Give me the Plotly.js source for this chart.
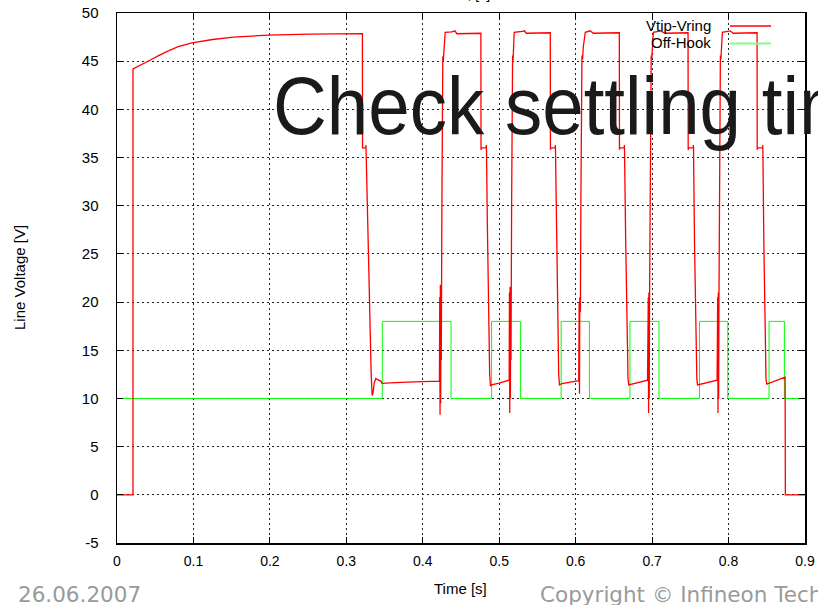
<!DOCTYPE html>
<html>
<head>
<meta charset="utf-8">
<script src="https://cdn.plot.ly/plotly-3.0.1.min.js"></script>
<style>
html,body{margin:0;padding:0;background:#fff;}
#chart{width:818px;height:605px;}
</style>
</head>
<body>
<div id="chart"></div>
<script>
// Vtip-Vring (red) — time [s] and voltage [V]
const vtipTime = [
  0, 0.0209, 0.0209, 0.030, 0.043, 0.055, 0.065, 0.080, 0.098, 0.125, 0.152, 0.198, 0.250, 0.3210,
  0.3212, 0.3255, 0.3256, 0.3258, 0.3275, 0.3300, 0.3325, 0.3338, 0.3350, 0.3365, 0.3385, 0.3410, 0.3450, 0.3470, 0.3510, 0.3790, 0.4218,
  0.4222, 0.4226, 0.4230, 0.4234, 0.4238, 0.4242,
  0.4250, 0.4255, 0.4262, 0.4268, 0.4275, 0.4282, 0.4293, 0.4380, 0.4420, 0.4446, 0.4760,
  0.4762, 0.4765, 0.4830, 0.4831, 0.4833, 0.4845, 0.4860, 0.4875, 0.4885, 0.4900, 0.5000, 0.5130,
  0.5134, 0.5138, 0.5142, 0.5146, 0.5150, 0.5154,
  0.5162, 0.5168, 0.5175, 0.5181, 0.5188, 0.5196, 0.5300, 0.5330, 0.5353, 0.5668,
  0.5670, 0.5673, 0.5733, 0.5734, 0.5736, 0.5750, 0.5765, 0.5778, 0.5788, 0.5820, 0.6040,
  0.6046, 0.6050, 0.6054, 0.6058, 0.6062,
  0.6068, 0.6075, 0.6082, 0.6090, 0.6100, 0.6126, 0.6190, 0.6230, 0.6571,
  0.6573, 0.6576, 0.6636, 0.6637, 0.6639, 0.6655, 0.6672, 0.6685, 0.6695, 0.6940,
  0.6950, 0.6954, 0.6958, 0.6962, 0.6966,
  0.6972, 0.6980, 0.6988, 0.6995, 0.7005, 0.7016, 0.7110, 0.7173, 0.7470,
  0.7472, 0.7475, 0.7539, 0.7540, 0.7542, 0.7555, 0.7572, 0.7585, 0.7595, 0.7850,
  0.7858, 0.7862, 0.7866, 0.7870, 0.7874,
  0.7880, 0.7886, 0.7893, 0.7900, 0.7908, 0.7919, 0.8020, 0.8063, 0.8373,
  0.8375, 0.8378, 0.8446, 0.8447, 0.8449, 0.8462, 0.8478, 0.8490, 0.8500, 0.8740,
  0.8743, 0.9000
];
const vtipVolt = [
  0, 0, 44.2, 44.55, 45.1, 45.6, 46.0, 46.5, 46.9, 47.25, 47.5, 47.7, 47.8, 47.85,
  36.0, 36.0, 36.3, 35.8, 30.0, 20.0, 12.5, 10.3, 10.6, 11.6, 12.05, 11.95, 11.8, 11.55, 11.6, 11.7, 11.8,
  20.5, 8.3, 21.8, 9.5, 20.0, 14.0,
  30.0, 44.5, 45.5, 45.0, 46.3, 46.0, 48.0, 48.05, 48.15, 47.85, 47.9,
  35.8, 36.0, 36.0, 36.3, 35.8, 28.0, 18.0, 12.5, 11.3, 11.4, 11.6, 11.9,
  21.0, 8.5, 21.6, 10.0, 19.5, 14.0,
  30.0, 44.5, 45.6, 45.1, 46.4, 48.0, 48.1, 48.15, 47.9, 47.95,
  35.8, 36.0, 36.0, 36.3, 35.8, 28.0, 18.0, 12.5, 11.4, 11.55, 11.85,
  20.0, 10.5, 20.5, 11.5, 19.0,
  30.0, 44.5, 45.6, 45.2, 46.5, 48.0, 48.15, 47.9, 47.95,
  35.8, 36.0, 36.0, 36.3, 35.8, 26.0, 16.0, 12.0, 11.4, 11.9,
  20.5, 8.5, 21.0, 10.0, 19.5,
  30.0, 44.5, 45.6, 45.2, 46.4, 48.0, 48.15, 47.9, 47.95,
  35.8, 36.0, 36.0, 36.3, 35.8, 26.0, 16.0, 12.0, 11.4, 11.9,
  20.5, 8.5, 21.0, 10.0, 19.5,
  30.0, 44.5, 45.6, 45.2, 46.4, 48.0, 48.15, 47.9, 47.95,
  35.8, 36.0, 36.0, 36.3, 35.8, 26.0, 16.0, 12.0, 11.5, 12.2,
  0, 0
];
// Off-Hook (green) — step edges, held until next time ('hv')
const hookTime = [0, 0.347, 0.437, 0.490, 0.528, 0.581, 0.618, 0.671, 0.709, 0.762, 0.799, 0.853, 0.873, 0.9];
const hookVolt = [10, 18, 10, 18, 10, 18, 10, 18, 10, 18, 10, 18, 10, 10];

const xTicks = [0, 0.1, 0.2, 0.3, 0.4, 0.5, 0.6, 0.7, 0.8, 0.9];
const xTickText = ['0', '0.1', '0.2', '0.3', '0.4', '0.5', '0.6', '0.7', '0.8', '0.9'];
const yTicks = [-5, 0, 5, 10, 15, 20, 25, 30, 35, 40, 45, 50];
const yTickText = ['-5', '0', '5', '10', '15', '20', '25', '30', '35', '40', '45', '50'];
const seriesNames = ['Vtip-Vring', 'Off-Hook'];

const W = 818, H = 605, L = 117, R = 13, T = 13, B = 62;
const pw = W - L - R, ph = H - T - B;
const px = v => (v - L) / pw;
const py = v => (H - B - v) / ph;

const font = 'Liberation Sans, Arial, sans-serif';

const traces = [
  {x: hookTime, y: hookVolt, type: 'scatter', mode: 'lines', name: seriesNames[1],
   line: {color: '#00ff00', width: 1, shape: 'hv'}, showlegend: false, hoverinfo: 'skip'},
  {x: vtipTime, y: vtipVolt, type: 'scatter', mode: 'lines', name: seriesNames[0],
   line: {color: '#ff0000', width: 1.3}, showlegend: false, hoverinfo: 'skip'}
];

const axisCommon = {
  showline: true, linecolor: '#000', linewidth: 1.5, mirror: 'ticks',
  ticks: 'inside', ticklen: 6, tickcolor: '#000', tickwidth: 1,
  showgrid: true, gridcolor: '#222', gridwidth: 1, griddash: '2px,3px',
  zeroline: false, fixedrange: true
};

const layout = {
  width: W, height: H,
  margin: {l: L, r: R, t: T, b: B, pad: 0},
  paper_bgcolor: '#fff', plot_bgcolor: '#fff',
  showlegend: false,
  xaxis: Object.assign({}, axisCommon, {
    range: [0, 0.9], tickvals: xTicks, ticktext: xTickText,
    tickfont: {family: font, size: 14, color: '#000'}, ticklabelstandoff: 5
  }),
  yaxis: Object.assign({}, axisCommon, {
    range: [-5, 50], tickvals: yTicks, ticktext: yTickText,
    tickfont: {family: font, size: 15, color: '#000'}, ticklabelstandoff: 14
  }),
  annotations: [
    {text: 'Check settling time', xref: 'paper', yref: 'paper', x: px(271), y: py(106),
     xanchor: 'left', yanchor: 'middle', showarrow: false,
     font: {family: font, size: 81, color: '#1a1a1a'}},
    {text: seriesNames[0], xref: 'paper', yref: 'paper', x: px(713), y: py(26),
     xanchor: 'right', yanchor: 'middle', showarrow: false,
     font: {family: font, size: 15, color: '#000'}},
    {text: seriesNames[1], xref: 'paper', yref: 'paper', x: px(713), y: py(43),
     xanchor: 'right', yanchor: 'middle', showarrow: false,
     font: {family: font, size: 15, color: '#000'}},
    {text: 'Line Voltage [V]', xref: 'paper', yref: 'paper', x: px(19), y: py(278),
     xanchor: 'center', yanchor: 'middle', textangle: -90, showarrow: false,
     font: {family: font, size: 15, color: '#000'}},
    {text: 'Time [s]', xref: 'paper', yref: 'paper', x: px(460), y: py(588),
     xanchor: 'center', yanchor: 'middle', showarrow: false,
     font: {family: font, size: 15, color: '#000'}},
    {text: 'Time, [s]', xref: 'paper', yref: 'paper', x: px(492), y: py(4),
     xanchor: 'right', yanchor: 'bottom', showarrow: false,
     font: {family: font, size: 14, color: '#000'}},
    {text: '26.06.2007', xref: 'paper', yref: 'paper', x: px(16), y: py(594),
     xanchor: 'left', yanchor: 'middle', showarrow: false,
     font: {family: 'DejaVu Sans, sans-serif', size: 21.5, color: '#9a9a9a'}},
    {text: 'Copyright © Infineon Technologies 2007. All rights reserved.', xref: 'paper', yref: 'paper', x: px(538), y: py(594),
     xanchor: 'left', yanchor: 'middle', showarrow: false,
     font: {family: 'DejaVu Sans, sans-serif', size: 21.5, color: '#9a9a9a'}}
  ],
  shapes: [
    {type: 'line', xref: 'paper', yref: 'paper', x0: px(730), x1: px(771), y0: py(26), y1: py(26),
     line: {color: '#ff0000', width: 1.5}},
    {type: 'line', xref: 'paper', yref: 'paper', x0: px(730), x1: px(771), y0: py(43.5), y1: py(43.5),
     line: {color: '#80ff80', width: 2}}
  ]
};

Plotly.newPlot('chart', traces, layout, {staticPlot: true, displayModeBar: false}).then(gd => {
  // the reference lettering of the big note is slightly condensed horizontally
  const t = gd.querySelector('.annotation[data-index="0"] text.annotation-text');
  if (t) {
    t.style.transformBox = 'fill-box';
    t.style.transformOrigin = 'left center';
    t.style.transform = 'scaleX(0.92)';
  }
});
</script>
</body>
</html>
